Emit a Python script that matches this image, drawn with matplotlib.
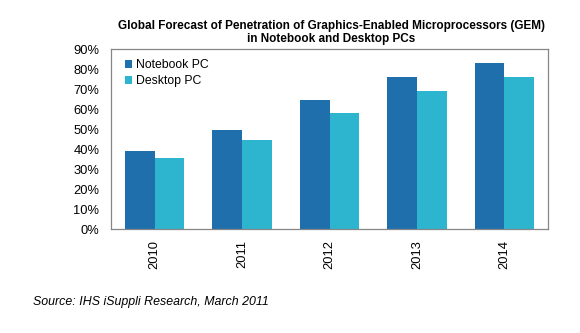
import matplotlib
matplotlib.use("Agg")
import matplotlib.pyplot as plt
import numpy as np
from matplotlib.ticker import FuncFormatter

years = ["2010", "2011", "2012", "2013", "2014"]
notebook = [39, 49.5, 64.5, 76, 83]
desktop = [35.5, 44.5, 58, 69, 76]
series_names = ["Notebook PC", "Desktop PC"]
yticks = [0, 10, 20, 30, 40, 50, 60, 70, 80, 90]

plt.rcParams['font.family'] = ['Liberation Sans', 'DejaVu Sans']

fig = plt.figure(figsize=(5.8, 3.33), dpi=100)
W, H = 580, 333
ax = fig.add_axes([111 / W, 1 - 229 / H, (548 - 111) / W, (229 - 49) / H])

x = np.arange(len(years))
bw = 0.34
c1, c2 = "#1F6FAD", "#2DB5D0"
ax.bar(x - bw / 2, notebook, bw, color=c1, label=series_names[0])
ax.bar(x + bw / 2, desktop, bw, color=c2, label=series_names[1])

ax.set_xlim(-0.5, len(years) - 0.5)
ax.set_ylim(0, 90)
ax.set_yticks(yticks)
ax.yaxis.set_major_formatter(FuncFormatter(lambda v, p: f"{int(v)}%"))
ax.set_xticks(x)
ax.set_xticklabels(years, rotation=90)
ax.tick_params(axis='both', length=0, labelsize=9.3, colors="#000000")
ax.tick_params(axis='y', pad=8.5)
ax.tick_params(axis='x', pad=8)
for s in ax.spines.values():
    s.set_color("#868686")
    s.set_linewidth(0.9)

leg = ax.legend(loc='upper left', frameon=False, fontsize=8.8, handlelength=0.6,
                handleheight=0.6, handletextpad=0.3, labelspacing=0.3,
                bbox_to_anchor=(0.02, 0.97), borderaxespad=0)

fig.text(331 / W, 1 - 32.5 / H,
         "Global Forecast of Penetration of Graphics-Enabled Microprocessors (GEM)\nin Notebook and Desktop PCs",
         ha='center', va='center', fontsize=8.5, fontweight='bold', linespacing=1.18)
fig.text(33 / W, 1 - 302 / H, "Source: IHS iSuppli Research, March 2011",
         ha='left', va='center', fontsize=8.9, style='italic')

fig.savefig("out.png", dpi=100)
